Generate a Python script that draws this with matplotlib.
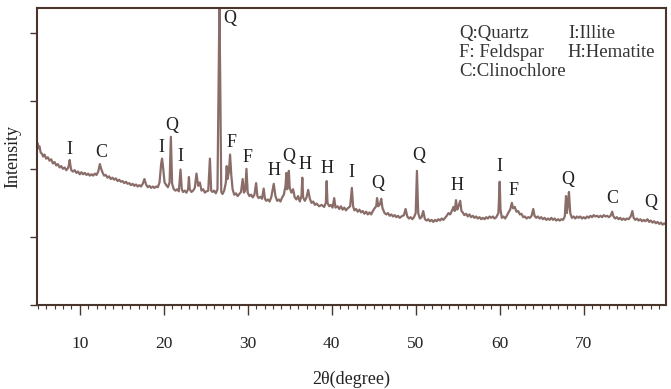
import matplotlib
matplotlib.use("Agg")
import matplotlib.pyplot as plt
from matplotlib.ticker import MultipleLocator

# XRD scan: (2theta in degrees, relative intensity)
xrd_scan = [
    (5.0, 2.37), (5.1, 2.30), (5.2, 2.33), (5.35, 2.24), (5.5, 2.22), (5.65, 2.18), (5.8, 2.21),
    (6.0, 2.15), (6.2, 2.17), (6.4, 2.12), (6.6, 2.14), (6.8, 2.08), (7.0, 2.10), (7.2, 2.05),
    (7.4, 2.07), (7.6, 2.02), (7.8, 2.04), (8.0, 2.00), (8.2, 2.02), (8.4, 1.98), (8.6, 2.01),
    (8.7, 2.05), (8.8, 2.13), (8.9, 2.04), (9.0, 1.98), (9.2, 1.96), (9.4, 1.98), (9.6, 1.94),
    (9.8, 1.96), (10.0, 1.92), (10.2, 1.95), (10.4, 1.92), (10.6, 1.94), (10.8, 1.91), (11.0, 1.93),
    (11.2, 1.90), (11.4, 1.92), (11.6, 1.90), (11.8, 1.93), (12.0, 1.91), (12.2, 1.96), (12.4, 2.07),
    (12.5, 2.02), (12.7, 1.95), (12.9, 1.90), (13.1, 1.91), (13.3, 1.87), (13.5, 1.89), (13.7, 1.85),
    (13.9, 1.87), (14.1, 1.84), (14.3, 1.86), (14.5, 1.82), (14.7, 1.84), (14.9, 1.81), (15.1, 1.82),
    (15.3, 1.79), (15.5, 1.81), (15.7, 1.78), (15.9, 1.79), (16.1, 1.76), (16.3, 1.78), (16.5, 1.75),
    (16.7, 1.77), (16.9, 1.74), (17.1, 1.76), (17.3, 1.74), (17.5, 1.78), (17.7, 1.85), (17.9, 1.77),
    (18.1, 1.73), (18.3, 1.75), (18.5, 1.72), (18.7, 1.74), (18.9, 1.72), (19.1, 1.74), (19.3, 1.73),
    (19.5, 1.80), (19.7, 2.08), (19.8, 2.15), (19.9, 2.05), (20.1, 1.80), (20.3, 1.76), (20.5, 1.73),
    (20.7, 1.80), (20.85, 2.47), (21.0, 1.78), (21.2, 1.70), (21.4, 1.68), (21.6, 1.70), (21.8, 1.67),
    (22.0, 1.99), (22.15, 1.70), (22.3, 1.66), (22.5, 1.68), (22.7, 1.65), (22.9, 1.70), (23.0, 1.88),
    (23.1, 1.70), (23.3, 1.66), (23.5, 1.68), (23.7, 1.72), (23.9, 1.93), (24.1, 1.75), (24.3, 1.80),
    (24.5, 1.68), (24.7, 1.70), (24.9, 1.65), (25.1, 1.67), (25.3, 1.68), (25.5, 2.15), (25.65, 1.68),
    (25.8, 1.66), (26.0, 1.68), (26.2, 1.64), (26.4, 1.70), (26.55, 3.37), (26.63, 4.40), (26.72, 3.37),
    (26.85, 1.66), (27.0, 1.63), (27.2, 1.68), (27.4, 1.80), (27.5, 2.04), (27.6, 1.85), (27.75, 1.95),
    (27.9, 2.21), (28.05, 1.90), (28.2, 1.70), (28.4, 1.62), (28.6, 1.64), (28.8, 1.60), (29.0, 1.63),
    (29.2, 1.66), (29.4, 1.85), (29.55, 1.65), (29.7, 1.68), (29.85, 2.00), (30.0, 1.65), (30.2, 1.60),
    (30.4, 1.62), (30.6, 1.58), (30.8, 1.62), (31.0, 1.79), (31.15, 1.60), (31.3, 1.57), (31.5, 1.59),
    (31.7, 1.56), (31.9, 1.71), (32.05, 1.56), (32.2, 1.53), (32.4, 1.55), (32.6, 1.52), (32.8, 1.58),
    (33.1, 1.78), (33.3, 1.60), (33.5, 1.53), (33.7, 1.55), (33.9, 1.52), (34.1, 1.58), (34.3, 1.62),
    (34.5, 1.75), (34.6, 1.94), (34.7, 1.70), (34.8, 1.80), (34.9, 1.97), (35.0, 1.72), (35.2, 1.65),
    (35.4, 1.70), (35.6, 1.58), (35.8, 1.55), (36.0, 1.60), (36.2, 1.52), (36.4, 1.60), (36.5, 1.87),
    (36.6, 1.58), (36.8, 1.53), (37.0, 1.58), (37.2, 1.69), (37.4, 1.56), (37.6, 1.50), (37.8, 1.52),
    (38.0, 1.47), (38.2, 1.49), (38.5, 1.45), (38.8, 1.47), (39.1, 1.44), (39.3, 1.50), (39.4, 1.82),
    (39.5, 1.50), (39.7, 1.45), (39.9, 1.47), (40.1, 1.43), (40.3, 1.57), (40.45, 1.43), (40.7, 1.45),
    (40.9, 1.41), (41.1, 1.45), (41.3, 1.40), (41.5, 1.43), (41.7, 1.39), (41.9, 1.42), (42.2, 1.45),
    (42.4, 1.72), (42.55, 1.45), (42.7, 1.39), (42.9, 1.41), (43.1, 1.37), (43.3, 1.40), (43.5, 1.36),
    (43.7, 1.38), (43.9, 1.34), (44.1, 1.37), (44.3, 1.33), (44.5, 1.36), (44.7, 1.33), (44.9, 1.38),
    (45.1, 1.42), (45.3, 1.45), (45.4, 1.57), (45.55, 1.45), (45.75, 1.48), (45.9, 1.56), (46.05, 1.42),
    (46.3, 1.35), (46.5, 1.33), (46.7, 1.35), (46.9, 1.31), (47.1, 1.33), (47.3, 1.30), (47.5, 1.32),
    (47.7, 1.29), (47.9, 1.31), (48.1, 1.28), (48.3, 1.30), (48.6, 1.32), (48.8, 1.41), (49.0, 1.30),
    (49.2, 1.27), (49.4, 1.29), (49.6, 1.26), (49.8, 1.29), (50.0, 1.35), (50.15, 1.97), (50.3, 1.35),
    (50.5, 1.27), (50.7, 1.29), (50.9, 1.38), (51.1, 1.26), (51.3, 1.24), (51.5, 1.26), (51.7, 1.23),
    (51.9, 1.25), (52.1, 1.22), (52.3, 1.25), (52.5, 1.23), (52.7, 1.26), (52.9, 1.24), (53.1, 1.27),
    (53.3, 1.25), (53.5, 1.28), (53.7, 1.31), (53.9, 1.35), (54.1, 1.33), (54.3, 1.38), (54.5, 1.44),
    (54.65, 1.38), (54.8, 1.54), (54.95, 1.40), (55.1, 1.45), (55.3, 1.53), (55.45, 1.38), (55.6, 1.36),
    (55.8, 1.32), (56.0, 1.34), (56.2, 1.30), (56.4, 1.33), (56.6, 1.29), (56.8, 1.31), (57.0, 1.28),
    (57.2, 1.30), (57.4, 1.27), (57.6, 1.29), (57.8, 1.26), (58.0, 1.28), (58.2, 1.26), (58.4, 1.29),
    (58.6, 1.27), (58.8, 1.30), (59.0, 1.28), (59.2, 1.30), (59.4, 1.27), (59.6, 1.29), (59.85, 1.35),
    (60.0, 1.81), (60.1, 1.40), (60.25, 1.28), (60.45, 1.30), (60.65, 1.27), (60.85, 1.31), (61.05, 1.36),
    (61.25, 1.40), (61.45, 1.50), (61.6, 1.42), (61.8, 1.44), (62.0, 1.37), (62.2, 1.38), (62.4, 1.33),
    (62.6, 1.34), (62.8, 1.29), (63.0, 1.30), (63.2, 1.27), (63.4, 1.29), (63.6, 1.28), (63.8, 1.31),
    (64.0, 1.41), (64.15, 1.31), (64.35, 1.28), (64.55, 1.30), (64.75, 1.27), (64.95, 1.29), (65.15, 1.26),
    (65.35, 1.28), (65.55, 1.25), (65.75, 1.27), (65.95, 1.25), (66.15, 1.28), (66.35, 1.25), (66.55, 1.27),
    (66.75, 1.24), (66.95, 1.26), (67.15, 1.24), (67.35, 1.26), (67.55, 1.25), (67.75, 1.30), (67.9, 1.60),
    (68.0, 1.35), (68.1, 1.45), (68.25, 1.66), (68.4, 1.35), (68.6, 1.28), (68.8, 1.30), (69.0, 1.27),
    (69.2, 1.30), (69.4, 1.28), (69.6, 1.30), (69.8, 1.27), (70.0, 1.29), (70.2, 1.27), (70.4, 1.30),
    (70.6, 1.28), (70.8, 1.31), (71.0, 1.29), (71.2, 1.32), (71.4, 1.30), (71.6, 1.31), (71.8, 1.29),
    (72.0, 1.31), (72.2, 1.29), (72.4, 1.32), (72.6, 1.30), (72.8, 1.31), (73.0, 1.29), (73.2, 1.31),
    (73.4, 1.37), (73.55, 1.30), (73.75, 1.27), (73.95, 1.29), (74.15, 1.26), (74.35, 1.28), (74.55, 1.25),
    (74.75, 1.27), (74.95, 1.25), (75.15, 1.27), (75.35, 1.26), (75.6, 1.30), (75.8, 1.38), (75.95, 1.28),
    (76.15, 1.25), (76.35, 1.27), (76.55, 1.24), (76.75, 1.26), (76.95, 1.23), (77.15, 1.25), (77.35, 1.23),
    (77.6, 1.26), (77.8, 1.22), (78.0, 1.24), (78.2, 1.21), (78.4, 1.23), (78.6, 1.20), (78.8, 1.22),
    (79.0, 1.19), (79.2, 1.21), (79.4, 1.18), (79.6, 1.20), (79.8, 1.18),
]
two_theta = [p[0] for p in xrd_scan]
intensity = [p[1] for p in xrd_scan]

# phase letters above the peaks
peak_letters = ["I", "C", "I", "Q", "I", "Q", "F", "F", "H", "Q", "H",
                "H", "I", "Q", "Q", "H", "I", "F", "Q", "C", "Q"]
label_x = [8.8, 12.6, 19.76, 20.95, 22.0, 27.86, 28.1, 30.0, 33.1, 34.9, 36.8,
           39.4, 42.4, 45.5, 50.4, 54.9, 60.0, 61.7, 68.1, 73.45, 78.0]
label_y = [2.28, 2.24, 2.31, 2.63, 2.18, 4.21, 2.38, 2.16, 1.97, 2.18, 2.06,
           2.01, 1.94, 1.78, 2.19, 1.75, 2.03, 1.68, 1.85, 1.57, 1.50]

key_left = ["Q:Quartz", "F: Feldspar", "C:Clinochlore"]
key_right = ["I:Illite", "H:Hematite"]

plt.rcParams["font.family"] = ["Liberation Serif", "DejaVu Serif"]
frame_col = "#4a352c"
line_col = "#8a6d68"

fig = plt.figure(figsize=(6.71, 3.89), dpi=100)
ax = fig.add_axes([0.055, 0.216, 0.9375, 0.763])

ax.plot(two_theta, intensity, color=line_col, lw=1.6)

for s, x, y in zip(peak_letters, label_x, label_y):
    ax.text(x, y, s, ha="center", va="center", fontsize=13, color="#222222")

for i, s in enumerate(key_left):
    ax.text(0.671, 0.916 - i * 0.064, s, transform=ax.transAxes, ha="left", va="center",
            fontsize=13.5, color="#333333")
for i, s in enumerate(key_right):
    ax.text(0.844, 0.916 - i * 0.064, s, transform=ax.transAxes, ha="left", va="center",
            fontsize=13.5, color="#333333")

ax.set_xlim(4.9, 79.8)
ax.set_ylim(0, 4.36)
ax.set_xticks([10, 20, 30, 40, 50, 60, 70])
ax.xaxis.set_minor_locator(MultipleLocator(1))
ax.set_yticks([0, 1, 2, 3, 4])
ax.set_yticklabels([])
ax.tick_params(axis="x", which="major", direction="out", length=7, width=1, pad=15,
               labelsize=12.5, colors=frame_col, labelcolor="#222222")
ax.tick_params(axis="x", which="minor", direction="out", length=3, width=0.8, colors=frame_col)
ax.tick_params(axis="y", direction="out", length=5, width=1, colors=frame_col)

for sp in ax.spines.values():
    sp.set_color(frame_col)
    sp.set_linewidth(1.5)

ax.set_xlabel("2θ(degree)", fontsize=13, labelpad=14, color="#222222")
ax.set_ylabel("Intensity", fontsize=13, labelpad=3, color="#222222")

fig.savefig("out.png", dpi=100)
